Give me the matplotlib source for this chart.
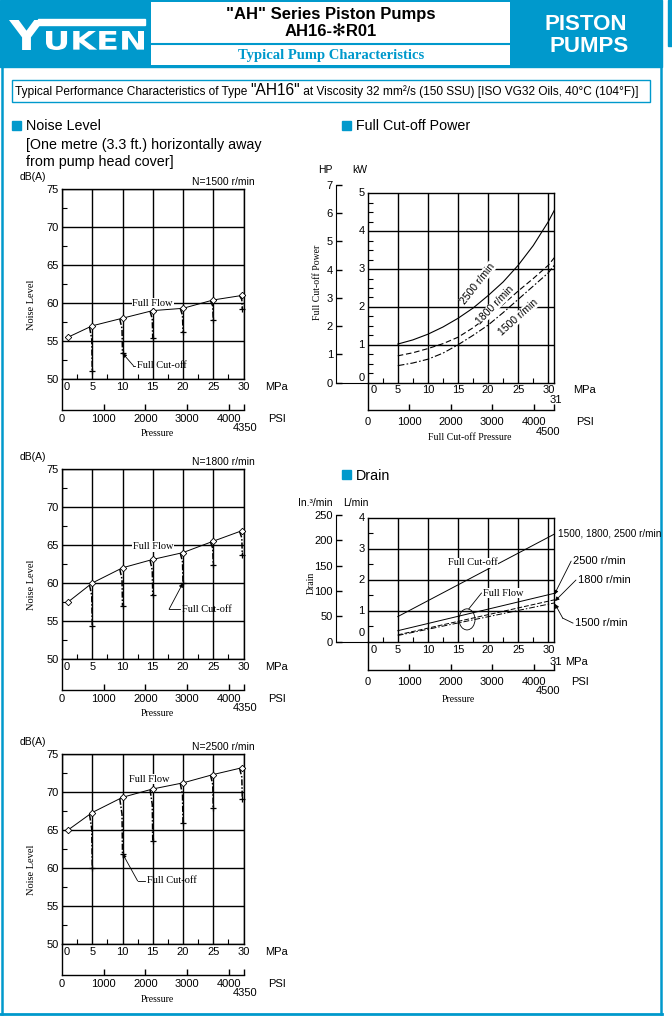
import numpy as np
import matplotlib
matplotlib.use("Agg")
import matplotlib.pyplot as plt
from matplotlib.patches import Rectangle, Ellipse, PathPatch
from matplotlib.textpath import TextPath
from matplotlib.font_manager import FontProperties
from matplotlib.transforms import Affine2D

W, H = 672, 1026
BLUE = "#0099CC"
SANS = ["Liberation Sans", "DejaVu Sans"]
SERIF = ["Liberation Serif", "DejaVu Serif"]
plt.rcParams["font.family"] = SANS
PT = 0.72  # points per pixel at 100 dpi

# ---- data ----
mpa_ticks = [0, 5, 10, 15, 20, 25, 30]
psi_ticks = [0, 1000, 2000, 3000, 4000]
db_ticks = [50, 55, 60, 65, 70, 75]
MPA_TO_PSI = 145.038
KW_PER_HP = 0.7457
IN3_PER_L = 61.024

# noise level, full flow (diamonds) and full cut-off (crosses)
p_ff = [1.0, 5, 10, 15, 20, 25, 29.8]
p_co = [5, 10, 15, 20, 25, 29.8]
n1500_ff = [55.5, 57.0, 58.0, 59.0, 59.3, 60.4, 61.0]
n1500_co = [51.0, 53.4, 55.4, 56.2, 57.7, 59.2]
n1800_ff = [57.5, 60.0, 62.0, 63.1, 64.0, 65.5, 66.9]
n1800_co = [54.4, 57.0, 58.4, 60.0, 62.4, 63.7]
n2500_ff = [65.0, 67.3, 69.3, 70.4, 71.2, 72.3, 73.2]
n2500_co = [60.0, 61.9, 63.6, 65.9, 67.9, 69.1]

# full cut-off power (kW)
p_power = [5, 7.5, 10, 12.5, 15, 17.5, 20, 22.5, 25, 27.5, 30, 31]
kw_2500 = [1.02, 1.13, 1.28, 1.47, 1.70, 1.97, 2.30, 2.66, 3.10, 3.62, 4.25, 4.55]
kw_1800 = [0.71, 0.79, 0.90, 1.03, 1.20, 1.45, 1.75, 2.07, 2.42, 2.75, 3.10, 3.30]
kw_1500 = [0.45, 0.52, 0.62, 0.78, 1.00, 1.25, 1.52, 1.85, 2.20, 2.55, 2.90, 3.10]

# drain (L/min)
p_drain = [5, 31]
drain_cutoff = [0.81, 3.47]
drain_2500 = [0.355, 1.56]
drain_1800 = [0.22, 1.35]
drain_1500 = [0.20, 1.25]

fig = plt.figure(figsize=(W / 100, H / 100), dpi=100)
bg = fig.add_axes([0, 0, 1, 1])
bg.set_xlim(0, W)
bg.set_ylim(H, 0)
bg.axis("off")


def add_ax(x0, y0, x1, y1):
    ax = fig.add_axes([x0 / W, 1 - y1 / H, (x1 - x0) / W, (y1 - y0) / H])
    ax.patch.set_alpha(0)
    return ax


def txt(x, y, s, size=8, **kw):
    kw.setdefault("ha", "center")
    kw.setdefault("va", "center")
    bg.text(x, y, s, fontsize=size, **kw)


def xlab(ax, v, s, dy, dx=0, size=8, ha="center"):
    ax.annotate(s, xy=(v, 0), xycoords=("data", "axes fraction"),
                xytext=(dx * PT, -dy * PT), textcoords="offset points",
                ha=ha, va="center", fontsize=size)


def ylab(ax, v, s, dx, dy=0, size=8):
    ax.annotate(s, xy=(0, v), xycoords=("axes fraction", "data"),
                xytext=(-dx * PT, dy * PT), textcoords="offset points",
                ha="center", va="center", fontsize=size)


def path_text(s, x0, y0, x1, y1, color="white"):
    tp = TextPath((0, 0), s, size=10, prop=FontProperties(family="DejaVu Sans", weight="bold"))
    bb = tp.get_extents()
    tr = Affine2D().translate(-bb.x0, -bb.y0).scale((x1 - x0) / bb.width, -(y1 - y0) / bb.height).translate(x0, y1)
    bg.add_patch(PathPatch(tr.transform_path(tp), fc=color, ec="none"))


def psi_axis(x0, y0, x1, y1, psi_max, end_label, lab_dy, end_dy, end_dx, psi_dx):
    pa = add_ax(x0, y0, x1, y1)
    pa.set_xlim(0, psi_max)
    pa.set_ylim(0, 1)
    pa.spines["top"].set_visible(False)
    pa.spines["right"].set_visible(False)
    pa.spines["left"].set_linewidth(1)
    pa.spines["bottom"].set_linewidth(1)
    pa.set_yticks([])
    pa.set_xticks(psi_ticks[1:] + [psi_max])
    pa.set_xticklabels([])
    pa.tick_params(axis="x", direction="in", length=4, width=1)
    for v in psi_ticks:
        xlab(pa, v, str(v), lab_dy)
    xlab(pa, psi_max, end_label, end_dy, dx=end_dx)
    xlab(pa, psi_max, "PSI", lab_dy, dx=psi_dx)
    return pa


def style_box(ax):
    for s in ax.spines.values():
        s.set_linewidth(1.0)
    ax.tick_params(which="major", length=0, labelsize=8, pad=2.5)
    ax.tick_params(which="minor", direction="in", length=3.5, width=0.8)
    ax.grid(True, which="major", color="k", lw=1.0)
    ax.set_xticklabels([])


# ---- page decoration ----
bg.add_patch(Rectangle((0, 0), 662, 67, color=BLUE))
bg.add_patch(Rectangle((151, 2), 359, 63, fc="white", ec="none"))
bg.plot([151, 510], [44, 44], color=BLUE, lw=1.5)
bg.add_patch(Rectangle((668, 0), 4, 46, color=BLUE))
bg.plot([1.5, 1.5], [66, 1014], color=BLUE, lw=1.8)
bg.plot([661, 661], [66, 1014], color=BLUE, lw=1.8)
bg.plot([0, 662], [1014, 1014], color=BLUE, lw=2.0)

path_text("Y", 9, 20, 44, 50)
path_text("UKEN", 46, 31, 144, 50)
bg.add_patch(Rectangle((38, 19), 107, 6, color="white"))
txt(586, 24, "PISTON", size=16, color="white", weight="bold")
txt(589, 47, "PUMPS", size=16, color="white", weight="bold")
txt(331, 15, '"AH" Series Piston Pumps', size=12, weight="bold")
txt(331, 32, "AH16-\u273bR01", size=12, weight="bold")
txt(331, 56, "Typical Pump Characteristics", size=10.5, weight="bold", color=BLUE, family=SERIF)

bg.add_patch(Rectangle((12, 80), 638, 22, fc="none", ec=BLUE, lw=1.0))
t1 = bg.text(15, 98, "Typical Performance Characteristics of Type ", fontsize=8.6, va="bottom")
t2 = bg.annotate('"AH16"', xy=(1, 0), xycoords=t1, fontsize=11.2, va="bottom")
bg.annotate(" at Viscosity 32 mm\u00b2/s (150 SSU) [ISO VG32 Oils, 40\u00b0C (104\u00b0F)]",
            xy=(1, 0), xycoords=t2, fontsize=8.6, va="bottom")

for x, y, s in [(12, 121, "Noise Level"), (342, 121, "Full Cut-off Power"), (342, 470, "Drain")]:
    bg.add_patch(Rectangle((x, y), 9, 9, color=BLUE))
    txt(x + 14, y + 9.5, s, size=10.3, ha="left", va="baseline")
txt(26, 149, "[One metre (3.3 ft.) horizontally away", size=10.3, ha="left", va="baseline")
txt(26, 166, "from pump head cover]", size=10.3, ha="left", va="baseline")


# ---- noise level charts ----
def noise_chart(top, speed, ff, co, flow_xy, cut_xy, knee_x, cut_idx):
    x0, x1 = 62, 62 + 30 * 6.05
    bot = top + 190
    ax = add_ax(x0, top, x1, bot)
    ax.set_xlim(0, 30)
    ax.set_ylim(50, 75)
    ax.set_xticks(mpa_ticks)
    ax.set_xticks(np.arange(2.5, 30, 5), minor=True)
    ax.set_yticks(db_ticks)
    ax.set_yticks(np.arange(52.5, 75, 5), minor=True)
    style_box(ax)

    for p, c in zip(p_co, co):
        f = np.interp(p, p_ff, ff)
        ps = p - 0.45
        ax.plot([ps, p - 0.08, p], [np.interp(ps, p_ff, ff), f - 0.3 * (f - c), c],
                color="k", lw=1.1, ls=(0, (4, 1.2, 1, 1.2)))
        ax.plot(p, c, marker="+", ms=4, mew=0.9, color="k", clip_on=False)
    ax.plot(p_ff, ff, color="k", lw=0.7, marker="D", ms=3.3, mfc="white", mec="k",
            mew=0.6, zorder=4, clip_on=False)

    ax.text(flow_xy[0], flow_xy[1], "Full Flow", ha="center", va="center", fontsize=7.5,
            family=SERIF, bbox=dict(fc="white", ec="none", pad=0.6), zorder=5)
    tx, ty = cut_xy
    ax.plot([knee_x, tx - 0.35], [ty, ty], color="k", lw=0.6)
    ax.annotate("", xy=(p_co[cut_idx], co[cut_idx]), xytext=(knee_x, ty),
                arrowprops=dict(arrowstyle="-|>", lw=0.6, color="k", mutation_scale=6,
                                shrinkA=0, shrinkB=0))
    ax.text(tx, ty, "Full Cut-off", ha="left", va="center", fontsize=7.5, family=SERIF)

    for v in mpa_ticks:
        xlab(ax, v, str(v), 8, dx=5 if v == 0 else 0)
    xlab(ax, 30, "MPa", 8, dx=33.5)
    txt(33, top - 12, "dB(A)", size=7.5)
    txt(223, top - 7, "N=%d r/min" % speed, size=7.5)
    txt(32, top + 116, "Noise Level", size=7.5, rotation=90, family=SERIF)
    psi_axis(x0, bot, x1, bot + 31, 30 * MPA_TO_PSI, "4350", 9, 18, 1.5, 33.5)
    txt(157, bot + 55, "Pressure", size=7, family=SERIF)


noise_chart(189, 1500, n1500_ff, n1500_co, (15.0, 60.0), (12.35, 51.75), 11.8, 1)
noise_chart(469, 1800, n1800_ff, n1800_co, (15.1, 64.8), (19.8, 56.55), 17.7, 3)
noise_chart(754, 2500, n2500_ff, n2500_co, (14.5, 71.7), (14.1, 58.3), 12.5, 1)

# ---- full cut-off power ----
px0, px1, ptop, pbot = 367.7, 554.3, 193.3, 382.7
pax = add_ax(px0, ptop, px1, pbot)
pax.set_xlim(0, 31)
pax.set_ylim(0, 5)
pax.set_xticks(mpa_ticks[1:])
pax.set_xticks(np.arange(2.5, 30, 5), minor=True)
pax.set_yticks([1, 2, 3, 4])
pax.set_yticks([v for v in np.arange(0.25, 5, 0.25) if v % 1], minor=True)
style_box(pax)
pax.set_yticklabels([])
pax.plot(p_power, kw_2500, color="k", lw=0.8)
pax.plot(p_power, kw_1800, color="k", lw=0.8, ls=(0, (5, 2.5)))
pax.plot(p_power, kw_1500, color="k", lw=0.8, ls=(0, (6, 2, 1.5, 2)))
for x, y, s, r in [(18.3, 2.62, "2500 r/min", 52), (21.2, 2.05, "1800 r/min", 46), (25.0, 1.72, "1500 r/min", 42)]:
    pax.text(x, y, s, rotation=r, ha="center", va="center", fontsize=7.5, rotation_mode="anchor",
             bbox=dict(fc="white", ec="none", pad=0.2), zorder=5)
for v in range(6):
    ylab(pax, v, str(v), 6, dy=4.7 if v == 0 else 0)
for v in mpa_ticks:
    xlab(pax, v, str(v), 7.3, dx=5.6 if v == 0 else 0)
xlab(pax, 31, "31", 17.3, dx=1.4)
xlab(pax, 31, "MPa", 7.3, dx=30.7)

hp_top = pbot - 7 * KW_PER_HP * (pbot - ptop) / 5
hax = add_ax(335.7, hp_top, px0, pbot)
hax.set_ylim(0, 7)
hax.spines["top"].set_visible(False)
hax.spines["right"].set_visible(False)
hax.set_xticks([])
hax.set_yticks(range(8))
hax.tick_params(axis="y", direction="in", length=4, width=1, labelsize=8, pad=2)
psi_axis(px0, pbot, px1, 410, 31 * MPA_TO_PSI, "4500", 11.7, 21.7, -6, 30.7)
txt(325, 170, "HP", size=7.5)
txt(360, 170, "kW", size=7.5)
txt(317, 282, "Full Cut-off Power", size=7, rotation=90, family=SERIF)
txt(470, 437, "Full Cut-off Pressure", size=7, family=SERIF)

# ---- drain ----
dtop, dbot = 517.7, 641.7
dax = add_ax(px0, dtop, px1, dbot)
dax.set_xlim(0, 31)
dax.set_ylim(0, 4)
dax.set_xticks(mpa_ticks[1:])
dax.set_xticks(np.arange(2.5, 30, 5), minor=True)
dax.set_yticks([1, 2, 3])
dax.set_yticks([0.5, 1.5, 2.5, 3.5], minor=True)
style_box(dax)
dax.set_yticklabels([])
dax.plot(p_drain, drain_cutoff, color="k", lw=0.7)
dax.plot(p_drain, drain_2500, color="k", lw=0.7)
dax.plot(p_drain, drain_1800, color="k", lw=0.7, ls=(0, (5, 2)))
dax.plot(p_drain, drain_1500, color="k", lw=0.7, ls=(0, (6, 2, 1.5, 2)))
dax.add_patch(Ellipse((16.5, 0.72), 2.66, 0.68, fill=False, lw=0.6, ec="k", clip_on=False))
dax.plot([16.8, 18.9], [1.06, 1.57], color="k", lw=0.6)
dax.text(19.1, 1.57, "Full Flow", ha="left", va="center", fontsize=7.5, family=SERIF,
         bbox=dict(fc="white", ec="none", pad=0.3))
dax.text(13.3, 2.54, "Full Cut-off", ha="left", va="center", fontsize=7.5, family=SERIF,
         bbox=dict(fc="white", ec="none", pad=0.3))
dax.text(31.6, 3.50, "1500, 1800, 2500 r/min", ha="left", va="center", fontsize=7.2)
arrow = dict(arrowstyle="-|>", lw=0.6, color="k", mutation_scale=6, shrinkA=0, shrinkB=0)
for (tx, ty), (ex, ey), s in [((34.1, 2.60), (31.0, 1.52), "2500 r/min"),
                              ((34.9, 1.99), (31.1, 1.31), "1800 r/min")]:
    dax.annotate("", xy=(ex, ey), xytext=(tx - 0.3, ty), arrowprops=arrow, annotation_clip=False)
    dax.text(tx, ty, s, ha="left", va="center", fontsize=8)
dax.plot([34.1, 32.4], [0.60, 0.76], color="k", lw=0.6, clip_on=False)
dax.annotate("", xy=(31.1, 1.22), xytext=(32.4, 0.76), arrowprops=arrow, annotation_clip=False)
dax.text(34.4, 0.60, "1500 r/min", ha="left", va="center", fontsize=8)
for v in range(5):
    ylab(dax, v, str(v), 6, dy=8.7 if v == 0 else 0)
for v in mpa_ticks:
    xlab(dax, v, str(v), 8.3, dx=5.6 if v == 0 else 0)
xlab(dax, 31, "31", 20, dx=1.4)
xlab(dax, 31, "MPa", 20, dx=22.4)

in_top = dbot - 250 / IN3_PER_L * (dbot - dtop) / 4
iax = add_ax(335.7, in_top, px0, dbot)
iax.set_ylim(0, 250)
iax.spines["top"].set_visible(False)
iax.spines["right"].set_visible(False)
iax.set_xticks([])
iax.set_yticks(range(0, 251, 50))
iax.tick_params(axis="y", direction="in", length=4, width=1, labelsize=8, pad=2)
psi_axis(px0, dbot, px1, 670, 31 * MPA_TO_PSI, "4500", 11.7, 20.7, -6, 25.7)
txt(315, 503, "In.\u00b3/min", size=7.5)
txt(356, 503, "L/min", size=7.5)
txt(311, 583, "Drain", size=7, rotation=90, family=SERIF)
txt(458, 700, "Pressure", size=7, family=SERIF)

fig.savefig("out.png", dpi=100)
